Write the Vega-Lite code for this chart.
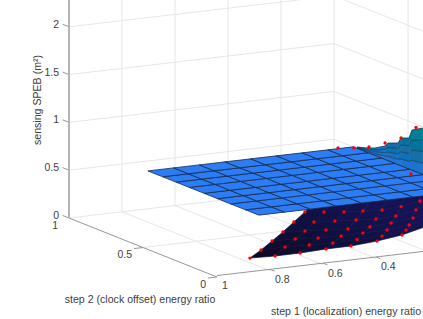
{"$schema":"https://vega.github.io/schema/vega-lite/v6.json","width":423,"height":319,"padding":0,"autosize":{"type":"none"},"background":"white","config":{"view":{"stroke":null}},
"data":{"values":[
{"s":"grid","line":"z0","n":0,"step1":1,"step2":1,"speb":0},{"s":"grid","line":"z0","n":1,"step1":0,"step2":1,"speb":0},{"s":"grid","line":"z0","n":2,"step1":0,"step2":0,"speb":0},
{"s":"grid","line":"z1","n":0,"step1":1,"step2":1,"speb":0.5},{"s":"grid","line":"z1","n":1,"step1":0,"step2":1,"speb":0.5},{"s":"grid","line":"z1","n":2,"step1":0,"step2":0,"speb":0.5},
{"s":"grid","line":"z2","n":0,"step1":1,"step2":1,"speb":1},{"s":"grid","line":"z2","n":1,"step1":0,"step2":1,"speb":1},{"s":"grid","line":"z2","n":2,"step1":0,"step2":0,"speb":1},
{"s":"grid","line":"z3","n":0,"step1":1,"step2":1,"speb":1.5},{"s":"grid","line":"z3","n":1,"step1":0,"step2":1,"speb":1.5},{"s":"grid","line":"z3","n":2,"step1":0,"step2":0,"speb":1.5},
{"s":"grid","line":"z4","n":0,"step1":1,"step2":1,"speb":2},{"s":"grid","line":"z4","n":1,"step1":0,"step2":1,"speb":2},{"s":"grid","line":"z4","n":2,"step1":0,"step2":0,"speb":2},
{"s":"grid","line":"v8","n":0,"step1":0.8,"step2":0,"speb":0},{"s":"grid","line":"v8","n":1,"step1":0.8,"step2":1,"speb":0},{"s":"grid","line":"v8","n":2,"step1":0.8,"step2":1,"speb":3},
{"s":"grid","line":"v6","n":0,"step1":0.6,"step2":0,"speb":0},{"s":"grid","line":"v6","n":1,"step1":0.6,"step2":1,"speb":0},{"s":"grid","line":"v6","n":2,"step1":0.6,"step2":1,"speb":3},
{"s":"grid","line":"v4","n":0,"step1":0.4,"step2":0,"speb":0},{"s":"grid","line":"v4","n":1,"step1":0.4,"step2":1,"speb":0},{"s":"grid","line":"v4","n":2,"step1":0.4,"step2":1,"speb":3},
{"s":"grid","line":"v2","n":0,"step1":0.2,"step2":0,"speb":0},{"s":"grid","line":"v2","n":1,"step1":0.2,"step2":1,"speb":0},{"s":"grid","line":"v2","n":2,"step1":0.2,"step2":1,"speb":3},
{"s":"grid","line":"v0","n":0,"step1":0,"step2":1,"speb":0},{"s":"grid","line":"v0","n":1,"step1":0,"step2":1,"speb":3},
{"s":"grid","line":"c5","n":0,"step1":1,"step2":0.5,"speb":0},{"s":"grid","line":"c5","n":1,"step1":0,"step2":0.5,"speb":0},{"s":"grid","line":"c5","n":2,"step1":0,"step2":0.5,"speb":3},
{"s":"axis","line":"clock","n":0,"step1":1,"step2":1,"speb":0},{"s":"axis","line":"clock","n":1,"step1":1,"step2":0,"speb":0},
{"s":"axis","line":"loc","n":0,"step1":1,"step2":0,"speb":0.015},{"s":"axis","line":"loc","n":1,"step1":0,"step2":0,"speb":0.015},
{"s":"axis","line":"tz0","n":0,"step1":1,"step2":1,"speb":0},{"s":"axis","line":"tz0","n":1,"step1":1,"step2":1.044,"speb":0},
{"s":"axis","line":"tz1","n":0,"step1":1,"step2":1,"speb":0.5},{"s":"axis","line":"tz1","n":1,"step1":1,"step2":1.044,"speb":0.5},
{"s":"axis","line":"tz2","n":0,"step1":1,"step2":1,"speb":1},{"s":"axis","line":"tz2","n":1,"step1":1,"step2":1.044,"speb":1},
{"s":"axis","line":"tz3","n":0,"step1":1,"step2":1,"speb":1.5},{"s":"axis","line":"tz3","n":1,"step1":1,"step2":1.044,"speb":1.5},
{"s":"axis","line":"tz4","n":0,"step1":1,"step2":1,"speb":2},{"s":"axis","line":"tz4","n":1,"step1":1,"step2":1.044,"speb":2},
{"s":"axis","line":"tc0","n":0,"step1":1,"step2":0,"speb":0},{"s":"axis","line":"tc0","n":1,"step1":1.034,"step2":0,"speb":0},
{"s":"axis","line":"tc5","n":0,"step1":1,"step2":0.5,"speb":0},{"s":"axis","line":"tc5","n":1,"step1":1.034,"step2":0.5,"speb":0},
{"s":"axis","line":"tl8","n":0,"step1":0.8,"step2":0,"speb":0.015},{"s":"axis","line":"tl8","n":1,"step1":0.8,"step2":-0.03,"speb":0.015},
{"s":"axis","line":"tl6","n":0,"step1":0.6,"step2":0,"speb":0.015},{"s":"axis","line":"tl6","n":1,"step1":0.6,"step2":-0.03,"speb":0.015},
{"s":"axis","line":"tl4","n":0,"step1":0.4,"step2":0,"speb":0.015},{"s":"axis","line":"tl4","n":1,"step1":0.4,"step2":-0.03,"speb":0.015},
{"s":"axis","line":"tl2","n":0,"step1":0.2,"step2":0,"speb":0.015},{"s":"axis","line":"tl2","n":1,"step1":0.2,"step2":-0.03,"speb":0.015},
{"s":"zaxis","line":"z","n":0,"step1":1,"step2":1,"speb":0},{"s":"zaxis","line":"z","n":1,"step1":1,"step2":1,"speb":3},
{"s":"zl","label":"0","step1":1,"step2":1,"speb":0},{"s":"zl","label":"0.5","step1":1,"step2":1,"speb":0.5},{"s":"zl","label":"1","step1":1,"step2":1,"speb":1},{"s":"zl","label":"1.5","step1":1,"step2":1,"speb":1.5},{"s":"zl","label":"2","step1":1,"step2":1,"speb":2},
{"s":"cl","label":"1","step1":1,"step2":1,"speb":0},{"s":"cl","label":"0.5","step1":1,"step2":0.5,"speb":0},{"s":"cl","label":"0","step1":1,"step2":0,"speb":0},
{"s":"ll","label":"1","step1":1,"step2":0,"speb":0},{"s":"ll","label":"0.8","step1":0.8,"step2":0,"speb":0},{"s":"ll","label":"0.6","step1":0.6,"step2":0,"speb":0},{"s":"ll","label":"0.4","step1":0.4,"step2":0,"speb":0},
{"s":"t1","label":"step 1 (localization) energy ratio","step1":0.5,"step2":0,"speb":0},
{"s":"t2","label":"step 2 (clock offset) energy ratio","step1":1,"step2":0.5,"speb":0},
{"s":"t3","label":"sensing SPEB (m²)","step1":1,"step2":1,"speb":1.25},
{"s":"lower","i":0,"j":0,"step1":0.765,"step2":0.198,"speb":0},{"s":"lower","i":1,"j":0,"step1":0.677,"step2":0.186,"speb":0},{"s":"lower","i":2,"j":0,"step1":0.582,"step2":0.187,"speb":0},{"s":"lower","i":3,"j":0,"step1":0.477,"step2":0.2,"speb":0},{"s":"lower","i":4,"j":0,"step1":0.382,"step2":0.201,"speb":0},{"s":"lower","i":5,"j":0,"step1":0.27,"step2":0.226,"speb":0},{"s":"lower","i":6,"j":0,"step1":0.153,"step2":0.267,"speb":0},{"s":"lower","i":7,"j":0,"step1":0.014,"step2":0.346,"speb":0},
{"s":"lower","i":0,"j":1,"step1":0.674,"step2":0.286,"speb":0},{"s":"lower","i":1,"j":1,"step1":0.582,"step2":0.289,"speb":0},{"s":"lower","i":2,"j":1,"step1":0.497,"step2":0.278,"speb":0},{"s":"lower","i":3,"j":1,"step1":0.413,"step2":0.268,"speb":0},{"s":"lower","i":4,"j":1,"step1":0.317,"step2":0.277,"speb":0},{"s":"lower","i":5,"j":1,"step1":0.219,"step2":0.284,"speb":0},{"s":"lower","i":6,"j":1,"step1":0.105,"step2":0.326,"speb":0},{"s":"lower","i":7,"j":1,"step1":0,"step2":0.351,"speb":0.034},
{"s":"lower","i":0,"j":2,"step1":0.576,"step2":0.387,"speb":0},{"s":"lower","i":1,"j":2,"step1":0.494,"step2":0.378,"speb":0},{"s":"lower","i":2,"j":2,"step1":0.42,"step2":0.356,"speb":0},{"s":"lower","i":3,"j":2,"step1":0.338,"step2":0.347,"speb":0},{"s":"lower","i":4,"j":2,"step1":0.252,"step2":0.353,"speb":0},{"s":"lower","i":5,"j":2,"step1":0.16,"step2":0.355,"speb":0},{"s":"lower","i":6,"j":2,"step1":0.059,"step2":0.387,"speb":0},{"s":"lower","i":7,"j":2,"step1":0,"step2":0.338,"speb":0.105},
{"s":"lower","i":0,"j":3,"step1":0.478,"step2":0.489,"speb":0},{"s":"lower","i":1,"j":3,"step1":0.407,"step2":0.468,"speb":0},{"s":"lower","i":2,"j":3,"step1":0.338,"step2":0.449,"speb":0},{"s":"lower","i":3,"j":3,"step1":0.267,"step2":0.428,"speb":0},{"s":"lower","i":4,"j":3,"step1":0.188,"step2":0.421,"speb":0},{"s":"lower","i":5,"j":3,"step1":0.097,"step2":0.441,"speb":0},{"s":"lower","i":6,"j":3,"step1":0,"step2":0.466,"speb":0.005},{"s":"lower","i":7,"j":3,"step1":0,"step2":0.324,"speb":0.187},
{"s":"lower","i":0,"j":4,"step1":0.373,"step2":0.603,"speb":0},{"s":"lower","i":1,"j":4,"step1":0.315,"step2":0.572,"speb":0},{"s":"lower","i":2,"j":4,"step1":0.246,"step2":0.553,"speb":0},{"s":"lower","i":3,"j":4,"step1":0.177,"step2":0.534,"speb":0},{"s":"lower","i":4,"j":4,"step1":0.112,"step2":0.516,"speb":0},{"s":"lower","i":5,"j":4,"step1":0.032,"step2":0.525,"speb":0},{"s":"lower","i":6,"j":4,"step1":0,"step2":0.446,"speb":0.101},{"s":"lower","i":7,"j":4,"step1":0,"step2":0.311,"speb":0.279},
{"s":"lower","i":0,"j":5,"step1":0.268,"step2":0.717,"speb":0},{"s":"lower","i":1,"j":5,"step1":0.212,"step2":0.688,"speb":0},{"s":"lower","i":2,"j":5,"step1":0.154,"step2":0.657,"speb":0},{"s":"lower","i":3,"j":5,"step1":0.091,"step2":0.641,"speb":0},{"s":"lower","i":4,"j":5,"step1":0.028,"step2":0.625,"speb":0},{"s":"lower","i":5,"j":5,"step1":0,"step2":0.547,"speb":0.075},{"s":"lower","i":6,"j":5,"step1":0,"step2":0.419,"speb":0.212},{"s":"lower","i":7,"j":5,"step1":0,"step2":0.297,"speb":0.381},
{"s":"lower","i":0,"j":6,"step1":0.155,"step2":0.844,"speb":0},{"s":"lower","i":1,"j":6,"step1":0.103,"step2":0.817,"speb":0},{"s":"lower","i":2,"j":6,"step1":0.047,"step2":0.787,"speb":0},{"s":"lower","i":3,"j":6,"step1":0,"step2":0.75,"speb":0.018},{"s":"lower","i":4,"j":6,"step1":0,"step2":0.635,"speb":0.11},{"s":"lower","i":5,"j":6,"step1":0,"step2":0.514,"speb":0.217},{"s":"lower","i":6,"j":6,"step1":0,"step2":0.392,"speb":0.344},{"s":"lower","i":7,"j":6,"step1":0,"step2":0.284,"speb":0.494},
{"s":"ridge","i":0,"j":0,"step1":0,"step2":0.845,"speb":0.5},{"s":"ridge","i":0,"j":1,"step1":0,"step2":0.845,"speb":0.504},{"s":"ridge","i":0,"j":2,"step1":0,"step2":0.845,"speb":0.507},{"s":"ridge","i":0,"j":3,"step1":0,"step2":0.845,"speb":0.511},{"s":"ridge","i":0,"j":4,"step1":0,"step2":0.845,"speb":0.514},
{"s":"ridge","i":1,"j":0,"step1":0,"step2":0.777,"speb":0.5},{"s":"ridge","i":1,"j":1,"step1":0,"step2":0.777,"speb":0.512},{"s":"ridge","i":1,"j":2,"step1":0,"step2":0.777,"speb":0.523},{"s":"ridge","i":1,"j":3,"step1":0,"step2":0.777,"speb":0.535},{"s":"ridge","i":1,"j":4,"step1":0,"step2":0.777,"speb":0.546},
{"s":"ridge","i":2,"j":0,"step1":0,"step2":0.723,"speb":0.5},{"s":"ridge","i":2,"j":1,"step1":0,"step2":0.723,"speb":0.52},{"s":"ridge","i":2,"j":2,"step1":0,"step2":0.723,"speb":0.54},{"s":"ridge","i":2,"j":3,"step1":0,"step2":0.723,"speb":0.559},{"s":"ridge","i":2,"j":4,"step1":0,"step2":0.723,"speb":0.579},
{"s":"ridge","i":3,"j":0,"step1":0,"step2":0.655,"speb":0.5},{"s":"ridge","i":3,"j":1,"step1":0,"step2":0.655,"speb":0.536},{"s":"ridge","i":3,"j":2,"step1":0,"step2":0.655,"speb":0.571},{"s":"ridge","i":3,"j":3,"step1":0,"step2":0.655,"speb":0.607},{"s":"ridge","i":3,"j":4,"step1":0,"step2":0.655,"speb":0.642},
{"s":"ridge","i":4,"j":0,"step1":0,"step2":0.635,"speb":0.5},{"s":"ridge","i":4,"j":1,"step1":0,"step2":0.635,"speb":0.546},{"s":"ridge","i":4,"j":2,"step1":0,"step2":0.635,"speb":0.593},{"s":"ridge","i":4,"j":3,"step1":0,"step2":0.635,"speb":0.639},{"s":"ridge","i":4,"j":4,"step1":0,"step2":0.635,"speb":0.685},
{"s":"ridge","i":5,"j":0,"step1":0,"step2":0.568,"speb":0.5},{"s":"ridge","i":5,"j":1,"step1":0,"step2":0.568,"speb":0.557},{"s":"ridge","i":5,"j":2,"step1":0,"step2":0.568,"speb":0.614},{"s":"ridge","i":5,"j":3,"step1":0,"step2":0.568,"speb":0.67},{"s":"ridge","i":5,"j":4,"step1":0,"step2":0.568,"speb":0.727},
{"s":"ridge","i":6,"j":0,"step1":0,"step2":0.547,"speb":0.5},{"s":"ridge","i":6,"j":1,"step1":0,"step2":0.547,"speb":0.573},{"s":"ridge","i":6,"j":2,"step1":0,"step2":0.547,"speb":0.646},{"s":"ridge","i":6,"j":3,"step1":0,"step2":0.547,"speb":0.719},{"s":"ridge","i":6,"j":4,"step1":0,"step2":0.547,"speb":0.792},
{"s":"ridge","i":7,"j":0,"step1":0,"step2":0.493,"speb":0.5},{"s":"ridge","i":7,"j":1,"step1":0,"step2":0.493,"speb":0.581},{"s":"ridge","i":7,"j":2,"step1":0,"step2":0.493,"speb":0.663},{"s":"ridge","i":7,"j":3,"step1":0,"step2":0.493,"speb":0.744},{"s":"ridge","i":7,"j":4,"step1":0,"step2":0.493,"speb":0.825},
{"s":"ridge","i":8,"j":0,"step1":0,"step2":0.473,"speb":0.5},{"s":"ridge","i":8,"j":1,"step1":0,"step2":0.473,"speb":0.605},{"s":"ridge","i":8,"j":2,"step1":0,"step2":0.473,"speb":0.711},{"s":"ridge","i":8,"j":3,"step1":0,"step2":0.473,"speb":0.816},{"s":"ridge","i":8,"j":4,"step1":0,"step2":0.473,"speb":0.921},
{"s":"ridge","i":9,"j":0,"step1":0,"step2":0.399,"speb":0.5},{"s":"ridge","i":9,"j":1,"step1":0,"step2":0.399,"speb":0.622},{"s":"ridge","i":9,"j":2,"step1":0,"step2":0.399,"speb":0.744},{"s":"ridge","i":9,"j":3,"step1":0,"step2":0.399,"speb":0.866},{"s":"ridge","i":9,"j":4,"step1":0,"step2":0.399,"speb":0.988},
{"s":"ridge","i":10,"j":0,"step1":0,"step2":0.351,"speb":0.5},{"s":"ridge","i":10,"j":1,"step1":0,"step2":0.351,"speb":0.637},{"s":"ridge","i":10,"j":2,"step1":0,"step2":0.351,"speb":0.775},{"s":"ridge","i":10,"j":3,"step1":0,"step2":0.351,"speb":0.912},{"s":"ridge","i":10,"j":4,"step1":0,"step2":0.351,"speb":1.049},
{"s":"dot","step1":0,"step2":0.973,"speb":0.425},{"s":"dot","step1":0,"step2":0.865,"speb":0.492},{"s":"dot","step1":0,"step2":0.764,"speb":0.564},{"s":"dot","step1":0,"step2":0.655,"speb":0.673},{"s":"dot","step1":0,"step2":0.547,"speb":0.792},{"s":"dot","step1":0,"step2":0.446,"speb":0.964},{"s":"dot","step1":0,"step2":0.48,"speb":0.457},
{"s":"plane","i":0,"j":0,"step1":0.775,"step2":0.12,"speb":0.5},{"s":"plane","i":1,"j":0,"step1":0.678,"step2":0.12,"speb":0.5},{"s":"plane","i":2,"j":0,"step1":0.581,"step2":0.12,"speb":0.5},{"s":"plane","i":3,"j":0,"step1":0.484,"step2":0.12,"speb":0.5},{"s":"plane","i":4,"j":0,"step1":0.387,"step2":0.12,"speb":0.5},{"s":"plane","i":5,"j":0,"step1":0.29,"step2":0.12,"speb":0.5},{"s":"plane","i":6,"j":0,"step1":0.193,"step2":0.12,"speb":0.5},{"s":"plane","i":7,"j":0,"step1":0.096,"step2":0.12,"speb":0.5},{"s":"plane","i":8,"j":0,"step1":0,"step2":0.12,"speb":0.5},
{"s":"plane","i":0,"j":1,"step1":0.775,"step2":0.21,"speb":0.5},{"s":"plane","i":1,"j":1,"step1":0.678,"step2":0.21,"speb":0.5},{"s":"plane","i":2,"j":1,"step1":0.581,"step2":0.21,"speb":0.5},{"s":"plane","i":3,"j":1,"step1":0.484,"step2":0.21,"speb":0.5},{"s":"plane","i":4,"j":1,"step1":0.387,"step2":0.21,"speb":0.5},{"s":"plane","i":5,"j":1,"step1":0.29,"step2":0.21,"speb":0.5},{"s":"plane","i":6,"j":1,"step1":0.193,"step2":0.21,"speb":0.5},{"s":"plane","i":7,"j":1,"step1":0.096,"step2":0.21,"speb":0.5},{"s":"plane","i":8,"j":1,"step1":0,"step2":0.21,"speb":0.5},
{"s":"plane","i":0,"j":2,"step1":0.775,"step2":0.31,"speb":0.5},{"s":"plane","i":1,"j":2,"step1":0.678,"step2":0.31,"speb":0.5},{"s":"plane","i":2,"j":2,"step1":0.581,"step2":0.31,"speb":0.5},{"s":"plane","i":3,"j":2,"step1":0.484,"step2":0.31,"speb":0.5},{"s":"plane","i":4,"j":2,"step1":0.387,"step2":0.31,"speb":0.5},{"s":"plane","i":5,"j":2,"step1":0.29,"step2":0.31,"speb":0.5},{"s":"plane","i":6,"j":2,"step1":0.193,"step2":0.31,"speb":0.5},{"s":"plane","i":7,"j":2,"step1":0.096,"step2":0.31,"speb":0.5},{"s":"plane","i":8,"j":2,"step1":0,"step2":0.31,"speb":0.5},
{"s":"plane","i":0,"j":3,"step1":0.775,"step2":0.4,"speb":0.5},{"s":"plane","i":1,"j":3,"step1":0.678,"step2":0.4,"speb":0.5},{"s":"plane","i":2,"j":3,"step1":0.581,"step2":0.4,"speb":0.5},{"s":"plane","i":3,"j":3,"step1":0.484,"step2":0.4,"speb":0.5},{"s":"plane","i":4,"j":3,"step1":0.387,"step2":0.4,"speb":0.5},{"s":"plane","i":5,"j":3,"step1":0.29,"step2":0.4,"speb":0.5},{"s":"plane","i":6,"j":3,"step1":0.193,"step2":0.4,"speb":0.5},{"s":"plane","i":7,"j":3,"step1":0.096,"step2":0.4,"speb":0.5},{"s":"plane","i":8,"j":3,"step1":0,"step2":0.4,"speb":0.5},
{"s":"plane","i":0,"j":4,"step1":0.775,"step2":0.49,"speb":0.5},{"s":"plane","i":1,"j":4,"step1":0.678,"step2":0.49,"speb":0.5},{"s":"plane","i":2,"j":4,"step1":0.581,"step2":0.49,"speb":0.5},{"s":"plane","i":3,"j":4,"step1":0.484,"step2":0.49,"speb":0.5},{"s":"plane","i":4,"j":4,"step1":0.387,"step2":0.49,"speb":0.5},{"s":"plane","i":5,"j":4,"step1":0.29,"step2":0.49,"speb":0.5},{"s":"plane","i":6,"j":4,"step1":0.193,"step2":0.49,"speb":0.5},{"s":"plane","i":7,"j":4,"step1":0.096,"step2":0.49,"speb":0.5},{"s":"plane","i":8,"j":4,"step1":0,"step2":0.49,"speb":0.5},
{"s":"plane","i":0,"j":5,"step1":0.775,"step2":0.59,"speb":0.5},{"s":"plane","i":1,"j":5,"step1":0.678,"step2":0.59,"speb":0.5},{"s":"plane","i":2,"j":5,"step1":0.581,"step2":0.59,"speb":0.5},{"s":"plane","i":3,"j":5,"step1":0.484,"step2":0.59,"speb":0.5},{"s":"plane","i":4,"j":5,"step1":0.387,"step2":0.59,"speb":0.5},{"s":"plane","i":5,"j":5,"step1":0.29,"step2":0.59,"speb":0.5},{"s":"plane","i":6,"j":5,"step1":0.193,"step2":0.59,"speb":0.5},{"s":"plane","i":7,"j":5,"step1":0.096,"step2":0.59,"speb":0.5},{"s":"plane","i":8,"j":5,"step1":0,"step2":0.59,"speb":0.5},
{"s":"plane","i":0,"j":6,"step1":0.775,"step2":0.68,"speb":0.5},{"s":"plane","i":1,"j":6,"step1":0.678,"step2":0.68,"speb":0.5},{"s":"plane","i":2,"j":6,"step1":0.581,"step2":0.68,"speb":0.5},{"s":"plane","i":3,"j":6,"step1":0.484,"step2":0.68,"speb":0.5},{"s":"plane","i":4,"j":6,"step1":0.387,"step2":0.68,"speb":0.5},{"s":"plane","i":5,"j":6,"step1":0.29,"step2":0.68,"speb":0.5},{"s":"plane","i":6,"j":6,"step1":0.193,"step2":0.68,"speb":0.5},{"s":"plane","i":7,"j":6,"step1":0.096,"step2":0.68,"speb":0.5},{"s":"plane","i":8,"j":6,"step1":0,"step2":0.68,"speb":0.5},
{"s":"plane","i":0,"j":7,"step1":0.775,"step2":0.77,"speb":0.5},{"s":"plane","i":1,"j":7,"step1":0.678,"step2":0.77,"speb":0.5},{"s":"plane","i":2,"j":7,"step1":0.581,"step2":0.77,"speb":0.5},{"s":"plane","i":3,"j":7,"step1":0.484,"step2":0.77,"speb":0.5},{"s":"plane","i":4,"j":7,"step1":0.387,"step2":0.77,"speb":0.5},{"s":"plane","i":5,"j":7,"step1":0.29,"step2":0.77,"speb":0.5},{"s":"plane","i":6,"j":7,"step1":0.193,"step2":0.77,"speb":0.5},{"s":"plane","i":7,"j":7,"step1":0.096,"step2":0.77,"speb":0.5},{"s":"plane","i":8,"j":7,"step1":0,"step2":0.77,"speb":0.5},
{"s":"plane","i":0,"j":8,"step1":0.775,"step2":0.87,"speb":0.5},{"s":"plane","i":1,"j":8,"step1":0.678,"step2":0.87,"speb":0.5},{"s":"plane","i":2,"j":8,"step1":0.581,"step2":0.87,"speb":0.5},{"s":"plane","i":3,"j":8,"step1":0.484,"step2":0.87,"speb":0.5},{"s":"plane","i":4,"j":8,"step1":0.387,"step2":0.87,"speb":0.5},{"s":"plane","i":5,"j":8,"step1":0.29,"step2":0.87,"speb":0.5},{"s":"plane","i":6,"j":8,"step1":0.193,"step2":0.87,"speb":0.5},{"s":"plane","i":7,"j":8,"step1":0.096,"step2":0.87,"speb":0.5},{"s":"plane","i":8,"j":8,"step1":0,"step2":0.87,"speb":0.5}
]},
"transform":[
{"calculate":"217+265*(1-datum.step1)-148*datum.step2","as":"px"},
{"calculate":"277-31*(1-datum.step1)-59*datum.step2-95.6*datum.speb","as":"py"}
],
"encoding":{
"x":{"field":"px","type":"quantitative","axis":null,"scale":{"domain":[0,423],"nice":false,"zero":false}},
"y":{"field":"py","type":"quantitative","axis":null,"scale":{"domain":[319,0],"nice":false,"zero":false}}
},
"resolve":{"scale":{"fill":"independent"}},
"layer":[
{"transform":[{"filter":"datum.s==='grid'"}],"mark":{"type":"line","stroke":"#e6e6e6","strokeWidth":1,"clip":true},"encoding":{"detail":{"field":"line"},"order":{"field":"n"}}},
{"transform":[{"filter":"datum.s==='axis'"}],"mark":{"type":"line","stroke":"#969696","strokeWidth":1,"clip":true},"encoding":{"detail":{"field":"line"},"order":{"field":"n"}}},
{"transform":[{"filter":"datum.s==='zaxis'"}],"mark":{"type":"line","stroke":"#b4b4b4","strokeWidth":2,"clip":true},"encoding":{"detail":{"field":"line"},"order":{"field":"n"}}},
{"transform":[{"filter":"datum.s==='lower'"},{"calculate":"[0,1,2,3,4]","as":"k"},{"flatten":["k"]},{"calculate":"(datum.i-[0,1,1,0,0][datum.k])+'_'+(datum.j-[0,0,1,1,0][datum.k])","as":"cell"},{"joinaggregate":[{"op":"count","as":"nv"},{"op":"mean","field":"step1","as":"mloc"}],"groupby":["cell"]},{"filter":"datum.nv===5"}],
"mark":{"type":"line","filled":true,"strokeWidth":0.7,"clip":true},
"encoding":{"detail":{"field":"cell"},"order":{"field":"k"},"fill":{"field":"mloc","type":"quantitative","legend":null,"scale":{"domain":[0,0.6],"range":["#151356","#0e0c30"]}},"stroke":{"field":"mloc","type":"quantitative","legend":null,"scale":{"domain":[0,0.6],"range":["#151356","#0e0c30"]}}}},
{"transform":[{"filter":"datum.s==='ridge'"},{"calculate":"[0,1,2,3,4]","as":"k"},{"flatten":["k"]},{"calculate":"(datum.i-[0,1,1,0,0][datum.k])+'_'+(datum.j-[0,0,1,1,0][datum.k])","as":"cell"},{"joinaggregate":[{"op":"count","as":"nv"},{"op":"mean","field":"speb","as":"mz"}],"groupby":["cell"]},{"filter":"datum.nv===5"}],
"mark":{"type":"line","filled":true,"strokeWidth":0,"clip":true},
"encoding":{"detail":{"field":"cell"},"order":{"field":"k"},"fill":{"field":"mz","type":"quantitative","legend":null,"scale":{"domain":[0.5,0.7,1],"range":["#2a74d8","#1d6c9e","#0e8a8c"]}}}},
{"transform":[{"filter":"datum.s==='ridge'"}],"mark":{"type":"line","stroke":"#0d3a52","strokeWidth":0.8,"clip":true},"encoding":{"detail":{"field":"j"},"order":{"field":"i"}}},
{"transform":[{"filter":"datum.s==='plane'"},{"calculate":"[0,1,2,3,4]","as":"k"},{"flatten":["k"]},{"calculate":"(datum.i-[0,1,1,0,0][datum.k])+'_'+(datum.j-[0,0,1,1,0][datum.k])","as":"cell"},{"joinaggregate":[{"op":"count","as":"nv"}],"groupby":["cell"]},{"filter":"datum.nv===5"}],
"mark":{"type":"line","filled":true,"stroke":"#13294a","strokeWidth":0.8,"clip":true},
"encoding":{"detail":{"field":"cell"},"order":{"field":"k"},"fill":{"value":"#2c7cf4"}}},
{"transform":[{"filter":"datum.s==='dot' || (datum.s==='lower' && datum.j<=5 && datum.i<=6)"}],"mark":{"type":"point","filled":true,"size":11,"color":"#ff0000","opacity":1,"clip":true}},
{"transform":[{"filter":"datum.s==='zl'"}],"mark":{"type":"text","align":"right","baseline":"middle","dx":-10,"dy":-2,"font":"Liberation Sans","fontSize":10.5,"fill":"#404040"},"encoding":{"text":{"field":"label"}}},
{"transform":[{"filter":"datum.s==='cl'"}],"mark":{"type":"text","align":"right","baseline":"middle","dx":-11,"dy":7.5,"font":"Liberation Sans","fontSize":10.5,"fill":"#404040"},"encoding":{"text":{"field":"label"}}},
{"transform":[{"filter":"datum.s==='ll'"}],"mark":{"type":"text","align":"left","baseline":"middle","dx":5,"dy":9,"font":"Liberation Sans","fontSize":10.5,"fill":"#404040"},"encoding":{"text":{"field":"label"}}},
{"transform":[{"filter":"datum.s==='t1'"}],"mark":{"type":"text","align":"center","baseline":"middle","dx":-3.5,"dy":50.5,"font":"Liberation Sans","fontSize":10.6,"fill":"#404040"},"encoding":{"text":{"field":"label"}}},
{"transform":[{"filter":"datum.s==='t2'"}],"mark":{"type":"text","align":"center","baseline":"middle","dx":-3,"dy":52.5,"font":"Liberation Sans","fontSize":10.6,"fill":"#404040"},"encoding":{"text":{"field":"label"}}},
{"transform":[{"filter":"datum.s==='t3'"}],"mark":{"type":"text","align":"center","baseline":"middle","angle":270,"dx":-1.5,"dy":-31.5,"font":"Liberation Sans","fontSize":10.6,"fill":"#404040"},"encoding":{"text":{"field":"label"}}}
]}
